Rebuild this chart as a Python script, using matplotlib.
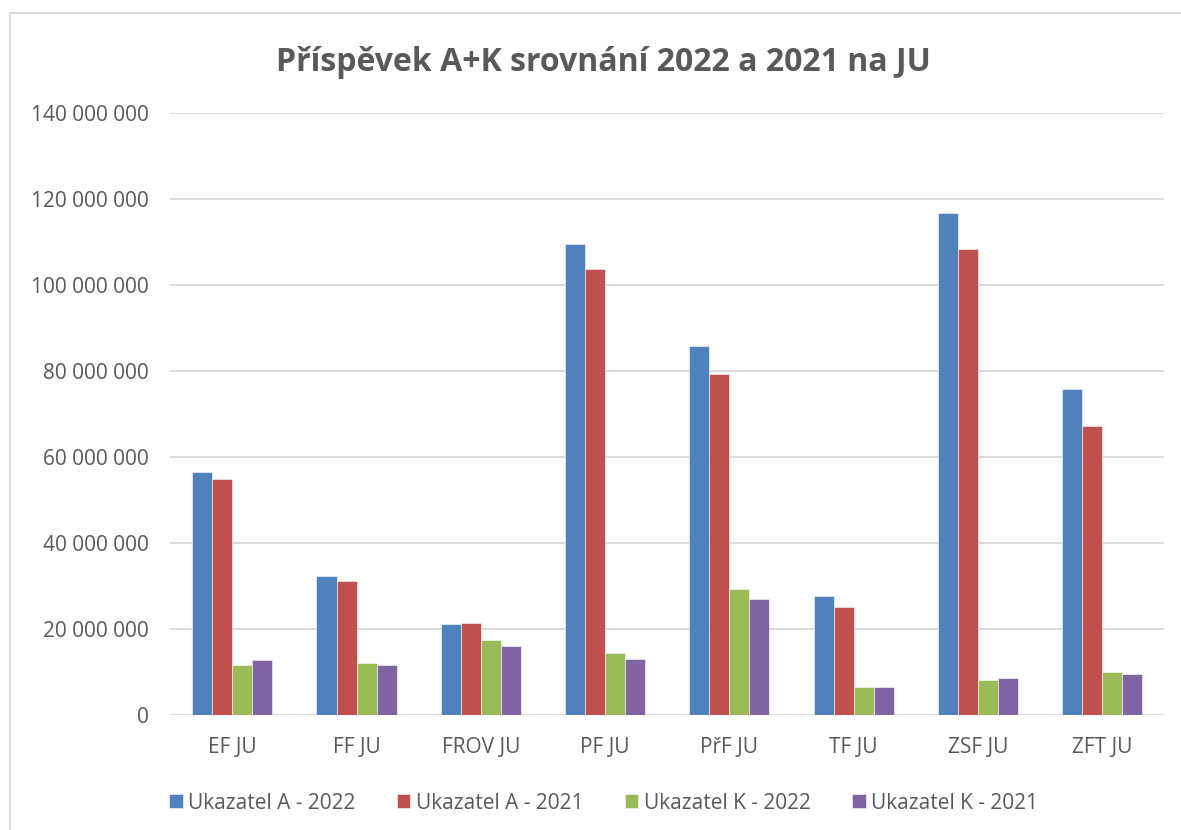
import numpy as np
import matplotlib
matplotlib.use("Agg")
import matplotlib.pyplot as plt
from matplotlib.ticker import FuncFormatter

categories = ["EF JU", "FF JU", "FROV JU", "PF JU", "PřF JU", "TF JU", "ZSF JU", "ZFT JU"]
a_2022 = [56.5e6, 32.3e6, 21.2e6, 109.5e6, 85.9e6, 27.6e6, 116.8e6, 75.9e6]
a_2021 = [54.9e6, 31.2e6, 21.4e6, 103.6e6, 79.4e6, 25.0e6, 108.4e6, 67.3e6]
k_2022 = [11.6e6, 12.1e6, 17.4e6, 14.4e6, 29.4e6, 6.4e6, 8.2e6, 9.9e6]
k_2021 = [12.7e6, 11.7e6, 16.0e6, 13.1e6, 26.9e6, 6.6e6, 8.6e6, 9.5e6]

series = [
    ("Ukazatel A - 2022", a_2022, "#4f81bd"),
    ("Ukazatel A - 2021", a_2021, "#c0504d"),
    ("Ukazatel K - 2022", k_2022, "#9bbb59"),
    ("Ukazatel K - 2021", k_2021, "#8064a2"),
]

plt.rcParams['font.family'] = ['Open Sans', 'DejaVu Sans']
text_color = "#595959"

fig = plt.figure(figsize=(11.81, 8.30), dpi=100)
ax = fig.add_axes([0.144, 0.1386, 0.842, 0.7253])

x = np.arange(len(categories))
w = 0.161
for i, (label, vals, color) in enumerate(series):
    ax.bar(x + (i - 1.5) * w, vals, width=w, color=color, label=label,
           edgecolor="white", linewidth=0.4, zorder=3)

ax.set_xlim(-0.5, len(categories) - 0.5)
ax.set_ylim(0, 140e6)
ax.set_yticks(np.arange(0, 140e6 + 1, 20e6))
ax.yaxis.set_major_formatter(FuncFormatter(lambda v, p: f"{int(v):,}".replace(",", " ")))
ax.set_xticks(x)
ax.set_xticklabels(categories)
ax.grid(axis="y", color="#d9d9d9", linewidth=1.3, zorder=0)
for s in ax.spines.values():
    s.set_visible(False)
ax.tick_params(axis="both", length=0, labelsize=15, colors=text_color)
ax.tick_params(axis="y", pad=15)
ax.tick_params(axis="x", pad=16)

fig.suptitle("Příspěvek A+K srovnání 2022 a 2021 na JU", x=0.511, y=0.945,
             fontsize=23, fontweight="bold", color=text_color)

leg = fig.legend(loc="lower center", bbox_to_anchor=(0.511, -0.003), ncol=4, frameon=False,
                 fontsize=15, handlelength=0.65, handleheight=0.65, columnspacing=2.0,
                 handletextpad=0.25)
for t in leg.get_texts():
    t.set_color(text_color)

border = plt.Rectangle((10 / 1181, -0.05), 1.1, 1 - 13 / 830 + 0.05, transform=fig.transFigure,
                       fill=False, edgecolor="#d9d9d9", linewidth=1.3, clip_on=False)
fig.patches.append(border)

fig.savefig("out.png", dpi=100, facecolor="white")
